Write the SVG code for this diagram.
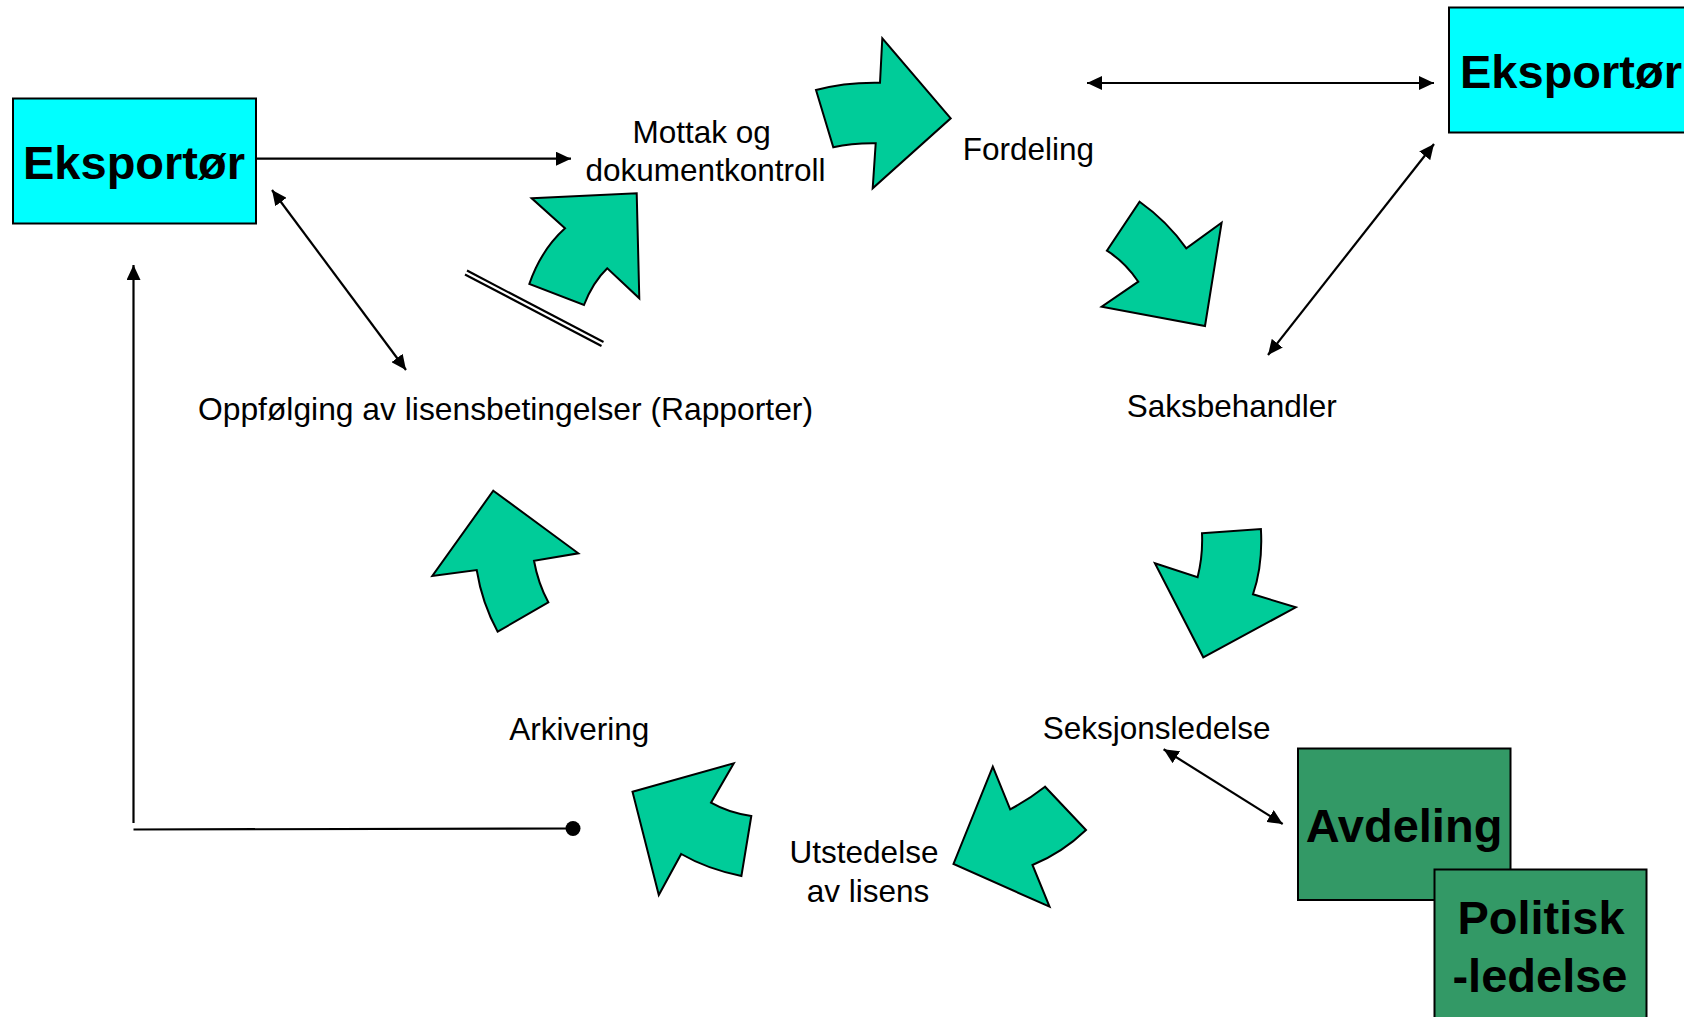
<svg xmlns="http://www.w3.org/2000/svg" width="1684" height="1017" viewBox="0 0 1684 1017">
<style>
.box{stroke:#000;stroke-width:2}
.cyan{fill:#00FFFF}
.dg{fill:#339966}
.ga{fill:#00CC99;stroke:#000;stroke-width:2;stroke-linejoin:miter}
.lbl{font-family:"Liberation Sans",Arial,sans-serif;font-size:31.5px;fill:#000}
.big{font-family:"Liberation Sans",Arial,sans-serif;font-size:47px;font-weight:bold;fill:#000}
.ln{stroke:#000;stroke-width:2.2;fill:none}
</style>
<defs>
<marker id="ah" markerUnits="userSpaceOnUse" markerWidth="16" markerHeight="14" refX="15" refY="7" orient="auto-start-reverse" viewBox="0 0 16 14">
<path d="M0,0 L15,7 L0,14 Z" fill="#000"/>
</marker>
</defs>
<rect width="1684" height="1017" fill="#fff"/>

<g id="connectors">
<line class="ln" x1="256" y1="158.7" x2="571" y2="158.7" marker-end="url(#ah)"/>
<line class="ln" x1="272" y1="190" x2="406" y2="370" marker-start="url(#ah)" marker-end="url(#ah)"/>
<line class="ln" x1="1087" y1="83" x2="1434" y2="83" marker-start="url(#ah)" marker-end="url(#ah)"/>
<line class="ln" x1="1434" y1="144" x2="1268" y2="355" marker-start="url(#ah)" marker-end="url(#ah)"/>
<line class="ln" x1="1163.6" y1="749.3" x2="1282.7" y2="824" marker-start="url(#ah)" marker-end="url(#ah)"/>
<line class="ln" x1="133.5" y1="823" x2="133.5" y2="265" marker-end="url(#ah)"/>
<line class="ln" x1="133.5" y1="829.5" x2="573" y2="828.5"/>
<circle cx="573" cy="828.5" r="7.5" fill="#000"/>
<line x1="466" y1="272.5" x2="602.5" y2="344" stroke="#000" stroke-width="6.5"/>
<line x1="465" y1="272" x2="603.5" y2="344.5" stroke="#fff" stroke-width="2.3"/>
</g>

<g id="cycle-arrows">
<path class="ga" d="M531.7 198.3 L636.7 193.3 L639.3 298.3 L607.3 268.3 Q593 282 584 305 L529.3 284 Q541 250 565 228.3 Z"/>
<path class="ga" d="M816 90 Q845 82 880 82.7 L882.3 38.3 L950.7 118.3 L872.7 188.3 L875.7 143.3 Q852 143 833.3 147.3 Z"/>
<path class="ga" d="M1139.6 201.7 Q1167 221 1186.3 248.3 L1221.6 222.7 L1205 326 L1101.7 306.7 L1138.3 281.7 Q1125 262 1106.9 250.7 Z"/>
<path class="ga" d="M1202 533.3 L1260.9 529 Q1263 565 1253 594.3 L1295.8 607.3 L1203.3 657.3 L1154.9 563.3 L1197.6 577.3 Q1203 556 1202 533.3 Z"/>
<path class="ga" d="M992.8 766.7 L1010.2 809.3 Q1028 800 1045 786.7 L1086 830 Q1062 853 1032.5 865 L1049.5 906.7 L953.5 864 Z"/>
<path class="ga" d="M632.5 791.7 L733.8 763.3 L711 802.7 Q729 813 751.3 816 L741.4 876 Q707 869 681.2 854 L658.8 895 Z"/>
<path class="ga" d="M493.3 490.7 L578.3 553.3 L534 560.7 Q538 583 548.3 602.3 L497.7 631.7 Q482 603 476.7 570 L432.3 576 Z"/>
</g>

<g id="eksportor-left">
<rect class="box cyan" x="13" y="98.5" width="243" height="125"/>
<text class="big" x="134" y="179" text-anchor="middle">Eksportør</text>
</g>
<g id="eksportor-right">
<rect class="box cyan" x="1449" y="7.5" width="250" height="125"/>
<text class="big" x="1460" y="88.3">Eksportør</text>
</g>
<g id="avdeling">
<rect class="box dg" x="1298" y="748.5" width="212.5" height="151.5"/>
<text class="big" x="1404" y="841.7" text-anchor="middle">Avdeling</text>
</g>
<g id="politisk">
<rect class="box dg" x="1434.5" y="869.5" width="212" height="160"/>
<text class="big" x="1541" y="934" text-anchor="middle">Politisk</text>
<text class="big" x="1540" y="991.7" text-anchor="middle">-ledelse</text>
</g>

<g id="mottak">
<text class="lbl" x="701.7" y="142.7" text-anchor="middle">Mottak og</text>
<text class="lbl" x="705.5" y="181" text-anchor="middle">dokumentkontroll</text>
</g>
<g id="fordeling"><text class="lbl" x="962.7" y="160">Fordeling</text></g>
<g id="saksbehandler"><text class="lbl" x="1126.7" y="416.7">Saksbehandler</text></g>
<g id="oppfolging"><text class="lbl" x="198" y="420" textLength="615" lengthAdjust="spacingAndGlyphs">Oppfølging av lisensbetingelser (Rapporter)</text></g>
<g id="seksjonsledelse"><text class="lbl" x="1042.8" y="739.3">Seksjonsledelse</text></g>
<g id="arkivering"><text class="lbl" x="509.3" y="740">Arkivering</text></g>
<g id="utstedelse">
<text class="lbl" x="864" y="863.3" text-anchor="middle">Utstedelse</text>
<text class="lbl" x="868" y="901.7" text-anchor="middle">av lisens</text>
</g>
</svg>
